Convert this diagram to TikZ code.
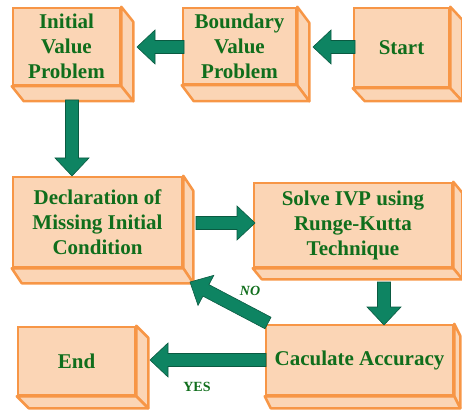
\documentclass[tikz,border=0pt]{standalone}
\usepackage{fontspec}
\setmainfont{Liberation Serif}
\usetikzlibrary{calc,backgrounds}
\definecolor{boxfill}{RGB}{251,213,181}
\definecolor{boxline}{RGB}{247,150,70}
\definecolor{arrfill}{RGB}{14,132,98}
\definecolor{arrline}{RGB}{10,90,65}
\definecolor{txtgreen}{RGB}{16,110,28}
\newcommand\blockarrow[2]{%
  \path ($(#2)!18pt!(#1)$) coordinate (hb);
  \filldraw[blockarr] ($(#1)!6.5pt!90:(#2)$) -- ($(hb)!6.5pt!90:(#2)$) -- ($(hb)!17pt!90:(#2)$) -- (#2)
    -- ($(hb)!17pt!-90:(#2)$) -- ($(hb)!6.5pt!-90:(#2)$) -- ($(#1)!6.5pt!-90:(#2)$) -- cycle;}
\begin{document}
\begin{tikzpicture}[x=1pt,y=-1pt,
  cube/.style={draw=boxline,fill=boxfill,line width=2.5pt,inner sep=0pt,align=center,
    text=txtgreen,font=\bfseries\fontsize{21}{25}\selectfont},
  side/.style={draw=boxline,fill=boxfill,line width=2.5pt,line join=round},
  blockarr/.style={fill=arrfill,draw=arrline,line width=0.6pt},
  lbl/.style={text=txtgreen,font=\bfseries\fontsize{14}{16}\selectfont}]
\useasboundingbox (0,0) rectangle (462,411);
\node[cube,minimum width=107pt,minimum height=77pt] (ivp) at (66.5,46.5) {Initial\\Value\\Problem};
\node[cube,minimum width=113pt,minimum height=76pt] (bvp) at (239.5,46) {Boundary\\Value\\Problem};
\node[cube,minimum width=95pt,minimum height=79pt] (start) at (401.5,47.5) {Start};
\node[cube,minimum width=169pt,minimum height=90pt] (decl) at (97.5,222) {Declaration of\\Missing Initial\\Condition};
\node[cube,minimum width=198pt,minimum height=84pt] (solve) at (353,225) {Solve IVP using\\Runge-Kutta\\Technique};
\node[cube,minimum width=187pt,minimum height=70pt] (acc) at (359.5,360) {Caculate Accuracy};
\node[cube,minimum width=117pt,minimum height=68pt] (fin) at (76.5,361) {End};
\begin{scope}[on background layer]
\foreach \n/\dx/\dy in {ivp/12/15,bvp/12/16,start/12/13,decl/10/15,solve/9/11,acc/6/12,fin/12/12}{
  \draw[side] (\n.north east) -- ++(\dx,\dy) -- ($(\n.south east)+(\dx,\dy)$) -- (\n.south east) -- cycle;
  \draw[side] (\n.south west) -- ++(\dx,\dy) -- ($(\n.south east)+(\dx,\dy)$) -- (\n.south east) -- cycle;
}
\end{scope}
\coordinate (t1) at (355,47); \coordinate (h1) at (313,47);
\coordinate (t2) at (184,47); \coordinate (h2) at (137,47);
\coordinate (t3) at (72,100); \coordinate (h3) at (72,176);
\coordinate (t4) at (196,223); \coordinate (h4) at (255,223);
\coordinate (t5) at (384,282); \coordinate (h5) at (384,325);
\coordinate (t6) at (266,360); \coordinate (h6) at (150,360);
\coordinate (t7) at (268,323); \coordinate (h7) at (190,282);
\blockarrow{t1}{h1}
\blockarrow{t2}{h2}
\blockarrow{t3}{h3}
\blockarrow{t4}{h4}
\blockarrow{t5}{h5}
\blockarrow{t6}{h6}
\blockarrow{t7}{h7}
\node[lbl,font=\bfseries\itshape\fontsize{14}{16}\selectfont] (no) at (250,291) {NO};
\node[lbl] (yes) at (197,387) {YES};
\end{tikzpicture}
\end{document}
